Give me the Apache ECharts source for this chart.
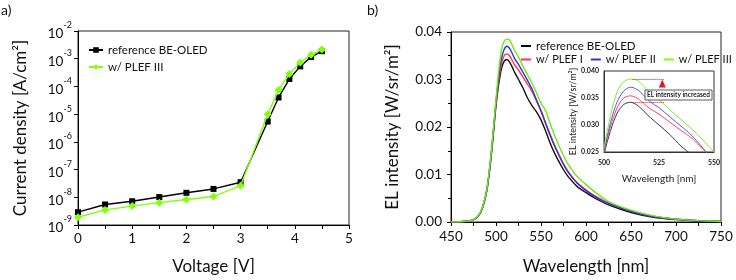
<!DOCTYPE html>
<html><head><meta charset="utf-8">
<script src="https://cdn.jsdelivr.net/npm/echarts@6/dist/echarts.min.js"></script>
<style>html,body{margin:0;padding:0;background:#fff}#c{width:736px;height:280px}</style>
</head><body><div id="c"></div>
<script>
// ---- Panel a) J-V data ----
const voltage = [0, 0.5, 1, 1.5, 2, 2.5, 3, 3.5, 3.7, 3.9, 4.1, 4.3, 4.5];
const jRef   = [2.9e-9, 5.5e-9, 7.2e-9, 1.02e-8, 1.45e-8, 2.0e-8, 3.5e-8, 5.4e-6, 4.0e-5, 1.85e-4, 5.3e-4, 1.15e-3, 1.87e-3];
const jPlef3 = [1.9e-9, 3.5e-9, 4.8e-9, 6.4e-9, 8.3e-9, 1.07e-8, 2.6e-8, 1.0e-5, 7.4e-5, 2.8e-4, 7.3e-4, 1.4e-3, 2.15e-3];
const jvNames = ['reference BE-OLED', 'w/ PLEF III'];

// ---- Panel b) EL spectra ----
const wavelength = [450,460,470,475,480,485,490,495,500,503,506,509,512,515,518,521,525,530,535,540,545,550,555,560,565,570,575,580,590,600,610,625,650,675,700,725,750];
const elRef   = [0,0.00005,0.0002,0.0005,0.0012,0.0030,0.0068,0.0145,0.0245,0.0290,0.0322,0.0338,0.0342,0.0337,0.0326,0.0314,0.0300,0.0282,0.0261,0.0245,0.0232,0.0215,0.0192,0.0167,0.0145,0.0127,0.0110,0.0096,0.0075,0.0062,0.0050,0.0036,0.0020,0.0010,0.0005,0.0002,0.0001];
const elPlef1 = [0,0.00005,0.0002,0.0005,0.0012,0.0030,0.0069,0.0148,0.0250,0.0298,0.0332,0.0350,0.0354,0.0350,0.0340,0.0330,0.0320,0.0305,0.0290,0.0275,0.0255,0.0235,0.0210,0.0185,0.0162,0.0142,0.0123,0.0107,0.0083,0.0068,0.0055,0.0040,0.0023,0.0012,0.0006,0.0003,0.0001];
const elPlef2 = [0,0.00005,0.0002,0.0005,0.0012,0.0030,0.0069,0.0150,0.0252,0.0305,0.0343,0.0363,0.0370,0.0366,0.0355,0.0343,0.0332,0.0315,0.0298,0.0280,0.0257,0.0233,0.0208,0.0183,0.0160,0.0140,0.0121,0.0105,0.0082,0.0066,0.0053,0.0039,0.0022,0.0011,0.0006,0.0003,0.0001];
const elPlef3 = [0,0.00005,0.0002,0.0005,0.0013,0.0031,0.0071,0.0153,0.0258,0.0318,0.0362,0.0380,0.0385,0.0383,0.0372,0.0360,0.0347,0.0328,0.0310,0.0292,0.0272,0.0250,0.0235,0.0208,0.0183,0.0160,0.0140,0.0122,0.0096,0.0079,0.0063,0.0043,0.0025,0.0013,0.0006,0.0003,0.0001];
const elNames = ['reference BE-OLED', 'w/ PLEF I', 'w/ PLEF II', 'w/ PLEF III'];
const elColors = ['#111111', '#ff3355', '#3535cc', '#66ee11'];
const insetColors = ['#333355', '#ff4466', '#5a5ae0', '#77ee33'];
// inset annotation levels (peak of reference and of PLEF III)
const annoLevels = [0.0342, 0.0385];
const annoRange = [513, 527.5];
const annoArrow = [526.5, 0.0377];

const FONT = 'Lato';
const chart = echarts.init(document.getElementById('c'), null, {renderer: 'canvas'});

function pairs(xs, ys){ return xs.map((x,i)=>[x, ys[i]]); }
const elData = [elRef, elPlef1, elPlef2, elPlef3];

const series = [];
series.push({name: jvNames[0], type: 'line', xAxisIndex: 0, yAxisIndex: 0, data: pairs(voltage, jRef),
  symbol: 'rect', symbolSize: 6, itemStyle: {color: '#000'}, lineStyle: {color: '#000', width: 1.4}, z: 3});
series.push({name: jvNames[1], type: 'line', xAxisIndex: 0, yAxisIndex: 0, data: pairs(voltage, jPlef3),
  symbol: 'diamond', symbolSize: 8, itemStyle: {color: '#80ff10'}, lineStyle: {color: '#80ff10', width: 1.4}, z: 4});
elData.forEach((d, i) => {
  series.push({name: elNames[i], type: 'line', xAxisIndex: 1, yAxisIndex: 1, data: pairs(wavelength, d),
    showSymbol: false, smooth: 0.3, itemStyle: {color: elColors[i]}, lineStyle: {color: elColors[i], width: 1.4}, z: 3 + i});
});
elData.forEach((d, i) => {
  const s = {name: 'inset' + i, type: 'line', xAxisIndex: 2, yAxisIndex: 2, data: pairs(wavelength, d),
    showSymbol: false, smooth: 0.3, clip: true, lineStyle: {color: insetColors[i], width: 1}, itemStyle: {color: insetColors[i]}, z: 10};
  if (i === 0) {
    s.markLine = {silent: true, symbol: ['none','none'], label: {show: false}, z: 30, animation: false,
      lineStyle: {color: '#ee1122', type: 'dotted', width: 1},
      data: annoLevels.map(l => [{coord: [annoRange[0], l]}, {coord: [annoRange[1], l]}])};
    s.markPoint = {silent: true, symbol: 'triangle', symbolSize: [7, 8], label: {show: false}, z: 30, animation: false,
      itemStyle: {color: '#ee1122'}, data: [{coord: annoArrow}]};
  }
  series.push(s);
});

function supLabel(v){ const e = Math.round(Math.log10(v)); return '{b|10}{s|' + e + '}'; }

const option = {
  animation: false,
  textStyle: {fontFamily: FONT},
  grid: [
    {left: 78, top: 31, width: 271, height: 199, show: true, borderColor: '#222', borderWidth: 1},
    {left: 451, top: 32, width: 270, height: 197, show: true, borderColor: '#222', borderWidth: 1},
    {left: 604, top: 71, width: 110, height: 81, show: true, borderColor: '#333', borderWidth: 1}
  ],
  xAxis: [
    {gridIndex: 0, type: 'value', min: 0, max: 5, interval: 1,
      axisLine: {lineStyle: {color: '#000'}}, axisTick: {length: 4, lineStyle: {color: '#000'}},
      minorTick: {show: true, splitNumber: 2, length: 4, lineStyle: {color: '#000'}},
      splitLine: {show: false}, axisLabel: {color: '#111', fontSize: 13.5, fontFamily: FONT, margin: 7},
      name: 'Voltage [V]', nameLocation: 'middle', nameGap: 33, nameTextStyle: {fontSize: 17, color: '#111', fontFamily: FONT}},
    {gridIndex: 1, type: 'value', min: 450, max: 750, interval: 50,
      axisLine: {lineStyle: {color: '#000'}}, axisTick: {length: 4, lineStyle: {color: '#000'}},
      minorTick: {show: true, splitNumber: 2, length: 4, lineStyle: {color: '#000'}},
      splitLine: {show: false}, axisLabel: {color: '#111', fontSize: 13.5, fontFamily: FONT, margin: 8},
      name: 'Wavelength [nm]', nameLocation: 'middle', nameGap: 36, nameTextStyle: {fontSize: 17, color: '#111', fontFamily: FONT}},
    {gridIndex: 2, type: 'value', min: 500, max: 550, interval: 25,
      axisLine: {lineStyle: {color: '#333'}}, axisTick: {show: false}, splitLine: {show: false},
      axisLabel: {color: '#222', fontSize: 7, fontWeight: 'bold', fontFamily: FONT, margin: 7},
      name: 'Wavelength [nm]', nameLocation: 'middle', nameGap: 22, nameTextStyle: {fontSize: 10, color: '#222', fontFamily: FONT}}
  ],
  yAxis: [
    {gridIndex: 0, type: 'log', logBase: 10, min: 1e-9, max: 1e-2, interval: 1,
      axisLine: {show: true, lineStyle: {color: '#000'}}, axisTick: {show: true, length: 4, lineStyle: {color: '#000'}},
      splitLine: {show: false},
      axisLabel: {formatter: supLabel, margin: 6, rich: {
        b: {fontSize: 13.5, color: '#111', fontFamily: FONT, verticalAlign: 'bottom', padding: [6, 0, 0, 0]},
        s: {fontSize: 9, color: '#111', fontFamily: FONT, verticalAlign: 'top'}}},
      name: 'Current density [A/cm²]', nameLocation: 'middle', nameGap: 49, nameTextStyle: {fontSize: 17, color: '#111', fontFamily: FONT}},
    {gridIndex: 1, type: 'value', min: 0, max: 0.04, interval: 0.01,
      axisLine: {show: true, lineStyle: {color: '#000'}}, axisTick: {show: true, length: 4, lineStyle: {color: '#000'}},
      minorTick: {show: true, splitNumber: 2, length: 3, lineStyle: {color: '#000'}},
      splitLine: {show: false},
      axisLabel: {formatter: v => v.toFixed(2), color: '#111', fontSize: 13.5, fontFamily: FONT, margin: 9},
      name: 'EL intensity [W/sr/m²]', nameLocation: 'middle', nameGap: 50, nameTextStyle: {fontSize: 17, color: '#111', fontFamily: FONT}},
    {gridIndex: 2, type: 'value', min: 0.025, max: 0.040, interval: 0.005,
      axisLine: {show: true, lineStyle: {color: '#333'}}, axisTick: {show: false}, splitLine: {show: false},
      axisLabel: {formatter: v => v.toFixed(3), color: '#222', fontSize: 7, fontWeight: 'bold', fontFamily: FONT, margin: 5},
      name: 'EL intensity [W/sr/m²]', nameLocation: 'middle', nameGap: 24, nameTextStyle: {fontSize: 9, color: '#222', fontFamily: FONT}}
  ],
  legend: [
    {data: jvNames, orient: 'vertical', left: 83, top: 39, itemGap: 5, itemWidth: 14, itemHeight: 7,
      textStyle: {fontSize: 11.5, color: '#111', fontFamily: FONT}, selectedMode: false},
    {data: [elNames[0]], left: 516, top: 35, itemWidth: 10, itemHeight: 2, icon: 'rect', itemGap: 4,
      textStyle: {fontSize: 11.5, color: '#111', fontFamily: FONT}, selectedMode: false},
    {data: elNames.slice(1), left: 516, top: 49, width: 240, itemGap: 8, itemWidth: 10, itemHeight: 2, icon: 'rect',
      textStyle: {fontSize: 11, color: '#111', fontFamily: FONT}, selectedMode: false}
  ],
  graphic: [
    {type: 'text', left: 1, top: 3, style: {text: 'a)', fontSize: 14, fontFamily: FONT, fill: '#111'}},
    {type: 'text', left: 367, top: 3, style: {text: 'b)', fontSize: 14, fontFamily: FONT, fill: '#111'}},
    {type: 'rect', shape: {x: 645, y: 90, width: 67, height: 10}, style: {fill: '#fff', stroke: '#333', lineWidth: 0.8}, z: 20},
    {type: 'text', x: 678.5, y: 95, style: {text: 'EL intensity increased', fontSize: 6.5, fontWeight: 'bold', fontFamily: FONT, fill: '#222', align: 'center', verticalAlign: 'middle'}, z: 21}
  ],
  series: series
};
chart.setOption(option);
</script></body></html>
